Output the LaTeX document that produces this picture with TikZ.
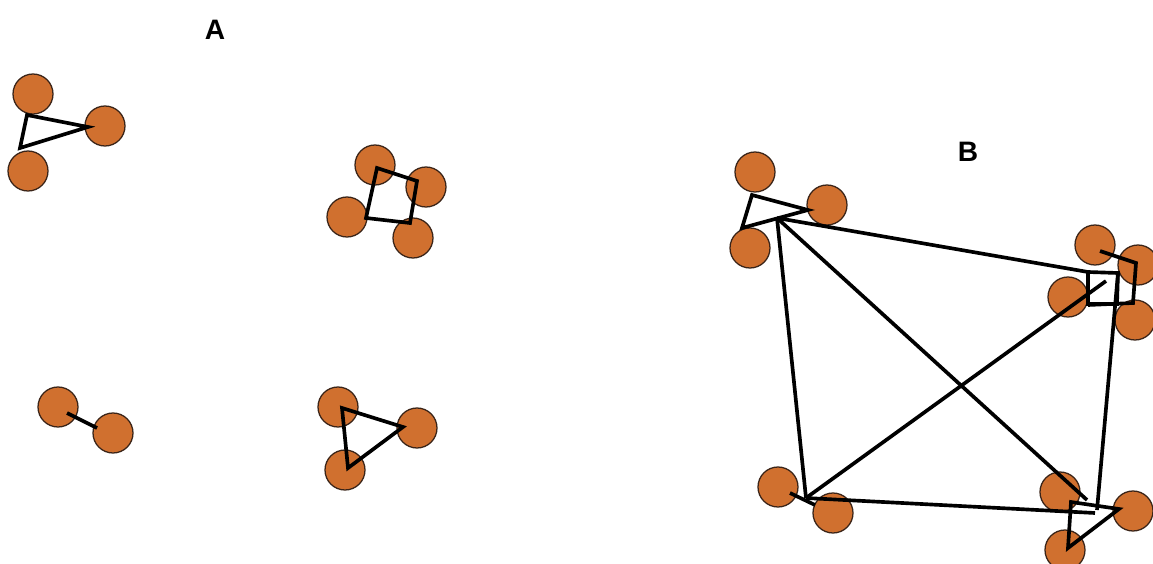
\documentclass[tikz,border=0pt]{standalone}
\usepackage{fontspec}
\setmainfont{Liberation Sans}
\usetikzlibrary{calc}
\definecolor{atomOrange}{HTML}{D0702F}
\definecolor{atomEdge}{HTML}{3A2418}

\begin{document}
\begin{tikzpicture}[x=0.025cm,y=-0.025cm]
\tikzstyle{atom}=[circle,draw=atomEdge,line width=.9pt,fill=atomOrange,minimum size=1cm,inner sep=0pt]
\tikzstyle{bond}=[draw=black,line width=2.6pt,line join=miter]
\tikzstyle{panel}=[font=\fontsize{20}{20}\selectfont\bfseries]
\useasboundingbox (0,0) rectangle (1153,564);
\node[panel] (labA) at (215,30) {A};
\node[panel] (labB) at (968,152) {B};
\foreach \nm/\x/\y in {a1/33/94,a2/105/126,a3/28/171,b1/375/165,b2/426/187,b3/347/217,b4/413/238,
  p1/58/407,p2/113/433,d1/338/407,d2/417/428,d3/345/470,
  e1/755/172,e2/827/205,e3/750/248,f1/1095/245,f2/1138/265,f3/1068/297,f4/1135/320,
  g1/778/487,g2/833/513,k1/1060/492,k2/1133/511,k3/1065/550}{\node[atom] (\nm) at (\x,\y) {};}
\foreach \nm/\x/\y in {ta1/27/115,ta2/88/127,ta3/20/148,sb1/377/168,sb2/417/181,sb3/410/223,sb4/366/218,
  pl1/67/413,pl2/97/428,td1/342/408,td2/403/427,td3/348/468,
  te1/752/195,te2/808/210,te3/742/228,hA/777/218,
  qf1/1100/251,qf2/1136/263,qf3/1133/303,qf4/1088/305,
  hB1/1088/272,hB3/1118/273,hB4/1117/304,hB5/1088/304,hB2/1106/281,
  gl1/790/493,gl2/815/505,hC/806/498,
  tk1/1071/502,tk2/1119/509,tk3/1068/548,hD1/1087/500,hD2/1097/510,hD3/1095/513}{\coordinate (\nm) at (\x,\y);}
\draw[bond] (ta1) -- (ta2) -- (ta3) -- cycle;
\draw[bond] (sb1) -- (sb2) -- (sb3) -- (sb4) -- cycle;
\draw[bond] (pl1) -- (pl2);
\draw[bond] (td1) -- (td2) -- (td3) -- cycle;
\draw[bond] (te1) -- (te2) -- (te3) -- cycle;
\draw[bond] (qf1) -- (qf2) -- (qf3) -- (qf4);
\draw[bond] (hB1) -- (hB3) -- (hB4) -- (hB5) -- cycle;
\draw[bond] (gl1) -- (gl2);
\draw[bond] (tk1) -- (tk2) -- (tk3) -- cycle;
\foreach \a/\b in {hA/hB1,hA/hC,hA/hD1,hC/hB2,hC/hD3,hB3/hD2}{\draw[bond] (\a) -- (\b);}
\end{tikzpicture}
\end{document}
